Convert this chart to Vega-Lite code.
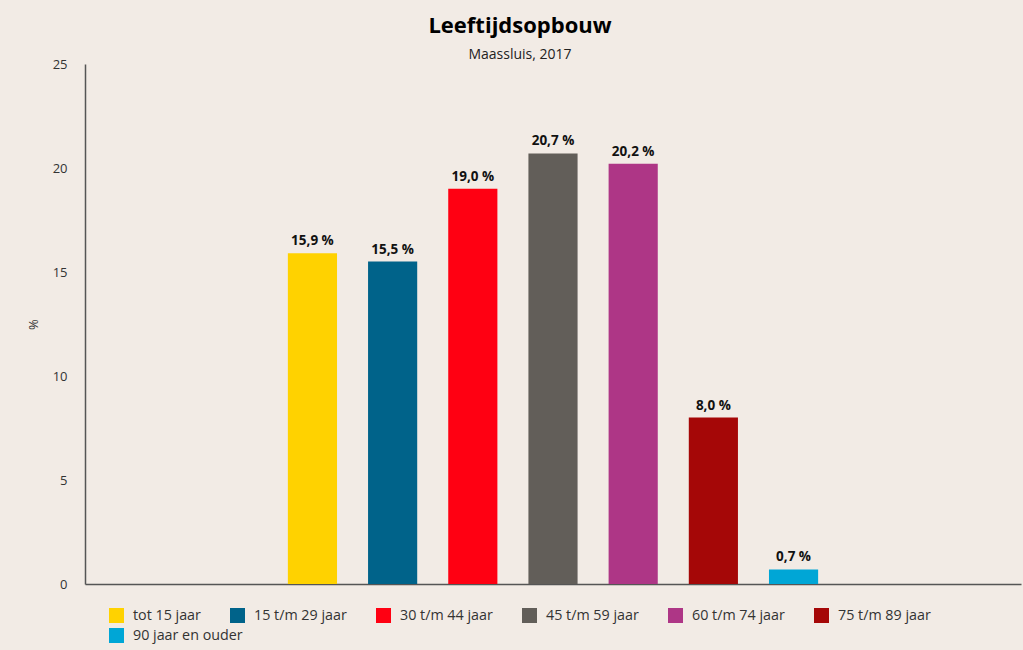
{
  "$schema": "https://vega.github.io/schema/vega-lite/v6.json",
  "width": 936,
  "height": 520,
  "autosize": {"type": "none"},
  "padding": {"left": 85, "top": 64, "right": 2, "bottom": 66},
  "background": "#f2ebe5",
  "config": {"view": {"stroke": null}},
  "title": {
    "text": "Leeftijdsopbouw",
    "subtitle": "Maassluis, 2017",
    "anchor": "middle",
    "dx": -33,
    "font": "Open Sans",
    "fontSize": 22,
    "fontWeight": "bold",
    "color": "#000000",
    "subtitleFont": "Open Sans",
    "subtitleFontSize": 14,
    "subtitleColor": "#222222",
    "offset": -5,
    "subtitlePadding": 10
  },
  "data": {
    "values": [
      {"groep": "tot 15 jaar", "pct": 15.9},
      {"groep": "15 t/m 29 jaar", "pct": 15.5},
      {"groep": "30 t/m 44 jaar", "pct": 19.0},
      {"groep": "45 t/m 59 jaar", "pct": 20.7},
      {"groep": "60 t/m 74 jaar", "pct": 20.2},
      {"groep": "75 t/m 89 jaar", "pct": 8.0},
      {"groep": "90 jaar en ouder", "pct": 0.7}
    ]
  },
  "encoding": {
    "x": {
      "field": "groep",
      "type": "nominal",
      "sort": null,
      "scale": {
        "domain": ["_a", "_b", "tot 15 jaar", "15 t/m 29 jaar", "30 t/m 44 jaar", "45 t/m 59 jaar", "60 t/m 74 jaar", "75 t/m 89 jaar", "90 jaar en ouder", "_c", "_d"],
        "paddingInner": 0.387,
        "paddingOuter": 0.53
      },
      "axis": {"labels": false, "ticks": false, "title": null, "domainColor": "#555555", "domainWidth": 1.5}
    },
    "y": {
      "field": "pct",
      "type": "quantitative",
      "scale": {"domain": [0, 25]},
      "axis": {
        "title": "%",
        "titleFont": "Open Sans",
        "titleFontSize": 13,
        "titleFontWeight": "normal",
        "titleColor": "#333333",
        "titlePadding": 12,
        "labelFont": "Open Sans",
        "labelFontSize": 13,
        "labelColor": "#333333",
        "labelPadding": 18,
        "ticks": false,
        "grid": false,
        "values": [0, 5, 10, 15, 20, 25],
        "domainColor": "#555555",
        "domainWidth": 1.5
      }
    }
  },
  "layer": [
    {
      "transform": [{"filter": "datum.groep !== '90 jaar en ouder'"}],
      "mark": {"type": "bar"},
      "encoding": {
        "color": {
          "field": "groep",
          "type": "nominal",
          "sort": null,
          "scale": {
            "domain": ["tot 15 jaar", "15 t/m 29 jaar", "30 t/m 44 jaar", "45 t/m 59 jaar", "60 t/m 74 jaar", "75 t/m 89 jaar"],
            "range": ["#ffd200", "#00638a", "#ff0012", "#625e59", "#ae3686", "#a50707"]
          },
          "legend": {
            "orient": "none",
            "legendX": 24,
            "legendY": 544,
            "direction": "horizontal",
            "columns": 6,
            "title": null,
            "padding": 0,
            "symbolType": "square",
            "symbolSize": 225,
            "symbolStrokeWidth": 0,
            "symbolOpacity": 1,
            "labelFont": "Open Sans",
            "labelFontSize": 14.3,
            "labelColor": "#333333",
            "labelOffset": 9,
            "labelLimit": 300,
            "columnPadding": 29,
            "rowPadding": 5
          }
        }
      }
    },
    {
      "transform": [{"filter": "datum.groep === '90 jaar en ouder'"}],
      "mark": {"type": "bar"},
      "encoding": {
        "fill": {
          "field": "groep",
          "type": "nominal",
          "scale": {
            "domain": ["90 jaar en ouder"],
            "range": ["#00a6d6"]
          },
          "legend": {
            "orient": "none",
            "legendX": 24,
            "legendY": 564,
            "direction": "horizontal",
            "columns": 6,
            "title": null,
            "padding": 0,
            "symbolType": "square",
            "symbolSize": 225,
            "symbolStrokeWidth": 0,
            "symbolOpacity": 1,
            "labelFont": "Open Sans",
            "labelFontSize": 14.3,
            "labelColor": "#333333",
            "labelOffset": 9,
            "labelLimit": 300
          }
        }
      }
    },
    {
      "mark": {
        "type": "text",
        "baseline": "bottom",
        "dy": -5,
        "font": "Open Sans",
        "fontSize": 13.5,
        "fontWeight": "bold",
        "color": "#111111",
        "text": {"expr": "replace(format(datum.pct, '.1f'), '.', ',') + ' %'"}
      }
    }
  ]
}
